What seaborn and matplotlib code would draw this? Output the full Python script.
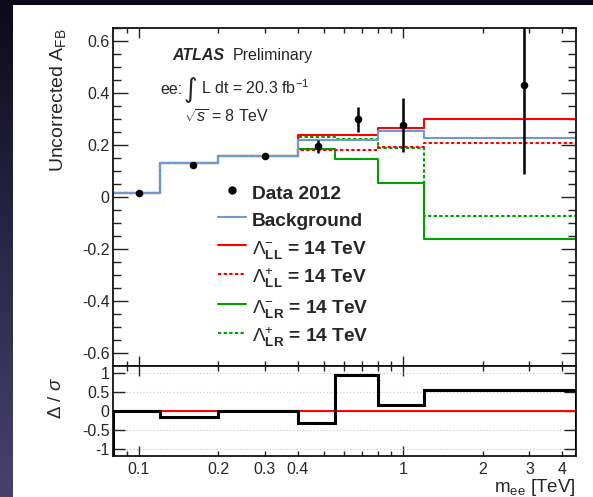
import numpy as np
import matplotlib
matplotlib.use("Agg")
import matplotlib.pyplot as plt
import seaborn as sns
from matplotlib.lines import Line2D
from matplotlib.patches import Rectangle
from matplotlib.colors import LinearSegmentedColormap
from matplotlib.ticker import FixedLocator, FixedFormatter, MultipleLocator, FuncFormatter
from matplotlib.font_manager import FontProperties

# ---- mass bins [TeV] ----
edges = [0.08, 0.12, 0.2, 0.4, 0.55, 0.8, 1.2, 4.5]

# ---- measured asymmetry ----
data_x = [0.1, 0.16, 0.30, 0.475, 0.675, 1.0, 2.85]
data_y = [0.014, 0.122, 0.157, 0.196, 0.299, 0.277, 0.43]
data_err = [0.008, 0.008, 0.008, 0.025, 0.048, 0.105, 0.342]

# ---- predictions per bin ----
background = [0.015, 0.130, 0.159, 0.218, 0.218, 0.254, 0.228]
ll_minus = [0.015, 0.130, 0.159, 0.237, 0.238, 0.264, 0.299]
ll_plus = [0.015, 0.130, 0.159, 0.181, 0.181, 0.194, 0.209]
lr_minus = [0.015, 0.130, 0.159, 0.185, 0.147, 0.054, -0.163]
lr_plus = [0.015, 0.130, 0.159, 0.232, 0.222, 0.190, -0.073]

# ---- pull (data - background) / sigma ----
pull = [0.0, -0.16, 0.0, -0.33, 0.94, 0.16, 0.54]

# ---- axis ticks ----
x_major = [0.1, 1]
x_major_labels = ["0.1", "1"]
x_minor = [0.09, 0.2, 0.3, 0.4, 0.5, 0.6, 0.7, 0.8, 0.9, 2, 3, 4]
x_minor_labels = ["", "0.2", "0.3", "0.4", "", "", "", "", "", "2", "3", "4"]
pull_ticks = [-1, -0.5, 0, 0.5, 1]
pull_tick_labels = ["-1", "-0.5", "0", "0.5", "1"]

legend_labels = [
    "Data 2012",
    "Background",
    r"$\Lambda^{-}_{\mathbf{LL}}$ = 14 TeV",
    r"$\Lambda^{+}_{\mathbf{LL}}$ = 14 TeV",
    r"$\Lambda^{-}_{\mathbf{LR}}$ = 14 TeV",
    r"$\Lambda^{+}_{\mathbf{LR}}$ = 14 TeV",
]

sns.set_style("ticks")
plt.rcParams["font.family"] = ["Liberation Sans", "DejaVu Sans"]
plt.rcParams["mathtext.fontset"] = "custom"
plt.rcParams["mathtext.rm"] = "Liberation Sans"
plt.rcParams["mathtext.it"] = "Liberation Sans:italic"
plt.rcParams["mathtext.bf"] = "Liberation Sans:bold"
plt.rcParams["mathtext.sf"] = "Liberation Sans"
plt.rcParams["axes.unicode_minus"] = False

W, H = 593, 497
fig = plt.figure(figsize=(W / 100, H / 100), dpi=100)

# slide-like backdrop with a white page
bg = fig.add_axes([0, 0, 1, 1], zorder=-10)
cmap = LinearSegmentedColormap.from_list("slide", ["#0c0a19", "#2a2748", "#46426e"])
bg.imshow(np.linspace(0, 1, 256).reshape(-1, 1), aspect="auto", cmap=cmap,
          extent=[0, 1, 0, 1], origin="upper")
bg.add_patch(Rectangle((13 / W, 0), 1 - 13 / W, 1 - 5 / H, transform=bg.transAxes,
                       facecolor="white", edgecolor="none"))
bg.set_xlim(0, 1)
bg.set_ylim(0, 1)
bg.axis("off")

left, right = 113 / W, 576 / W
ax = fig.add_axes([left, 1 - 366 / H, right - left, (366 - 28) / H])
rax = fig.add_axes([left, 1 - 456 / H, right - left, (456 - 366) / H], sharex=ax)

BLUE = "#6f9ad0"
RED = "#ff0000"
GREEN = "#00a000"
LW = 1.5
DASH = (1.6, 1.1)


def step_xy(vals):
    return edges, list(vals) + [vals[-1]]


series = [
    (lr_minus, GREEN, "-"),
    (lr_plus, GREEN, DASH),
    (ll_plus, RED, DASH),
    (ll_minus, RED, "-"),
    (background, BLUE, "-"),
]
for vals, col, style in series:
    xs, ys = step_xy(vals)
    sns.lineplot(x=xs, y=ys, ax=ax, color=col, lw=LW, drawstyle="steps-post",
                 estimator=None, sort=False)
    if style != "-":
        ax.lines[-1].set_dashes(style)

ax.errorbar(data_x, data_y, yerr=data_err, fmt="none", ecolor="black", elinewidth=1.8,
            capsize=0, zorder=5)
sns.scatterplot(x=data_x, y=data_y, ax=ax, color="black", s=30, edgecolor="black",
                linewidth=0, zorder=6)

ax.set_xscale("log")
ax.set_xlim(edges[0], edges[-1])
ax.set_ylim(-0.65, 0.65)
ax.yaxis.set_major_locator(MultipleLocator(0.2))
ax.yaxis.set_minor_locator(MultipleLocator(0.05))
ax.yaxis.set_major_formatter(FuncFormatter(lambda v, p: f"{v:g}" if abs(v) > 1e-9 else "0"))
ax.xaxis.set_major_locator(FixedLocator(x_major))
ax.xaxis.set_minor_locator(FixedLocator(x_minor))
ax.tick_params(axis="x", which="both", labelbottom=False)
ax.tick_params(which="both", direction="in", top=True, right=True, width=1.0, color="#222222")
ax.tick_params(axis="y", which="major", length=11, labelsize=11.5, pad=2.5)
ax.tick_params(axis="y", which="minor", length=6)
ax.tick_params(axis="x", which="major", length=7.5)
ax.tick_params(axis="x", which="minor", length=3.8)
ax.set_ylabel(r"Uncorrected A$_{\mathrm{FB}}$", fontsize=14, loc="top")
ax.yaxis.set_label_coords(-0.097, 1.0)
ax.set_xlabel("")

# legend: tall handle boxes give every row the same height
handles = [
    Line2D([], [], marker="o", color="black", ls="none", markersize=5),
    Line2D([], [], color=BLUE, lw=LW),
    Line2D([], [], color=RED, lw=LW),
    Line2D([], [], color=RED, lw=LW, dashes=DASH),
    Line2D([], [], color=GREEN, lw=LW),
    Line2D([], [], color=GREEN, lw=LW, dashes=DASH),
]
ax.legend(handles, legend_labels, loc="upper left", bbox_to_anchor=(0.2268, 0.548),
          frameon=False, prop=FontProperties(family="Liberation Sans", weight="bold", size=13.8),
          handlelength=1.45, handleheight=1.45, handletextpad=0.33, labelspacing=0.25,
          borderpad=0, borderaxespad=0)

# annotations
tsize = 11.5
ax.text(172 / W, 1 - 60 / H, "ATLAS", transform=fig.transFigure, fontsize=tsize,
        fontweight="bold", fontstyle="italic", va="baseline")
ax.text(233 / W, 1 - 60 / H, "Preliminary", transform=fig.transFigure, fontsize=tsize,
        va="baseline")
ax.text(160 / W, 1 - 94 / H, "ee:", transform=fig.transFigure, fontsize=tsize, va="baseline")
ax.text(184 / W, 1 - 97 / H, "\u222b", transform=fig.transFigure, fontsize=19,
        family=["DejaVu Sans"], va="baseline")
ax.text(201 / W, 1 - 94 / H, r"L dt = 20.3 fb$^{-1}$", transform=fig.transFigure,
        fontsize=tsize, va="baseline")
ax.text(184 / W, 1 - 123 / H, r"$\sqrt{s}$ = 8 TeV", transform=fig.transFigure,
        fontsize=tsize, va="baseline")

# pull panel
rax.axhline(0, color=RED, lw=1.5, zorder=2)
rax.stairs(pull, edges, baseline=-1.19, color="black", lw=2.2, zorder=3)
rax.set_ylim(-1.19, 1.18)
rax.set_yticks(pull_ticks)
rax.set_yticklabels(pull_tick_labels)
rax.grid(axis="y", ls=(0, (1, 2)), color="#c4c4c4", lw=0.8)
rax.xaxis.set_major_locator(FixedLocator(x_major))
rax.xaxis.set_major_formatter(FixedFormatter(x_major_labels))
rax.xaxis.set_minor_locator(FixedLocator(x_minor))
rax.xaxis.set_minor_formatter(FixedFormatter(x_minor_labels))
rax.tick_params(which="both", direction="in", top=True, right=True, width=1.0, color="#222222")
rax.tick_params(axis="y", which="major", length=8.5, labelsize=11.5, pad=2.5)
rax.tick_params(axis="x", which="major", length=7, labelsize=11.5, pad=4)
rax.tick_params(axis="x", which="minor", length=3.5, labelsize=11.5, pad=4)
rax.set_ylabel(r"$\Delta$ / $\sigma$", fontsize=13.5)
rax.yaxis.set_label_coords(-0.104, 0.64)
rax.set_xlabel(r"m$_{\mathrm{ee}}$ [TeV]", fontsize=13.5, loc="right", labelpad=0.5)

for a in (ax, rax):
    for s in a.spines.values():
        s.set_linewidth(1.3)
        s.set_color("#111111")

fig.savefig("out.png", dpi=100)
